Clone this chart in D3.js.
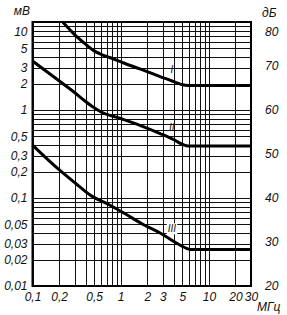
<!DOCTYPE html>
<head>
  <meta charset="utf-8">
  <script src="https://d3js.org/d3.v7.min.js"></script>
  <style>
    body { margin:0; background:#fff; }
    text { font-family: "Liberation Sans Narrow", "Liberation Sans", sans-serif; font-style: italic; fill:#111; }
    .grid line { stroke:#111; stroke-width:1; shape-rendering:crispEdges; }
    .frame { fill:none; stroke:#000; stroke-width:2; }
    .curve { fill:none; stroke:#000; stroke-width:3; stroke-linejoin:round; }
  </style>
</head>

<body>
  <script>
  // ---------- data ----------
    var freqI  = [0.22, 0.3, 0.4, 0.5, 0.6, 0.75, 1.1, 1.65, 2.8, 4.0, 5.2, 5.8, 30],
        mvI    = [10, 7.2, 5.6, 4.7, 4.3, 3.95, 3.4, 2.93, 2.4, 2.1, 1.92, 1.9, 1.9];
    var freqII = [0.1, 0.2, 0.3, 0.4, 0.5, 0.6, 1.0, 1.65, 2.8, 4.0, 5.2, 5.8, 30],
        mvII   = [3.6, 2.15, 1.58, 1.25, 1.06, 0.95, 0.8, 0.67, 0.54, 0.46, 0.4, 0.39, 0.39];
    var freqIII = [0.1, 0.2, 0.3, 0.47, 0.72, 1.1, 1.8, 2.8, 4.0, 5.5, 6.2, 30],
        mvIII   = [0.4, 0.21, 0.15, 0.105, 0.085, 0.067, 0.05, 0.04, 0.032, 0.027, 0.026, 0.026];

    var curveNames = ["I", "II", "III"];
    var xTicks = [0.1, 0.2, 0.5, 1, 2, 3, 5, 10, 20, 30];
    var yTicks = [10, 5, 3, 2, 1, 0.5, 0.3, 0.2, 0.1, 0.05, 0.03, 0.02, 0.01];
    var dbTicks = [80, 70, 60, 50, 40, 30, 20];

  // ---------- svg + scales ----------
    var svg = d3.select("body").append("svg")
      .attr("width", 287)
      .attr("height", 315);

    var x = d3.scaleLog().domain([0.1, 30]).range([32.5, 251]);
    var y = d3.scaleLog().domain([0.01, 10]).range([286, 22]);
    var yDb = d3.scaleLinear().domain([20, 80]).range([286, 22]);

    var fmt = d => String(d).replace(".", ",");

  // ---------- grid ----------
    var xGrid = [], yGrid = [];
    [0.1, 1].forEach(d => { for (var k = 1; k <= 9; k++) xGrid.push(k * d); });
    xGrid.push(10, 20, 30);
    [0.01, 0.1, 1].forEach(d => { for (var k = 1; k <= 9; k++) yGrid.push(k * d); });
    yGrid.push(10);

    var grid = svg.append("g").attr("class", "grid");
    grid.selectAll(".gx").data(xGrid).enter().append("line")
      .attr("x1", d => Math.round(x(d)) + 0.5).attr("x2", d => Math.round(x(d)) + 0.5)
      .attr("y1", y(10)).attr("y2", y(0.01));
    grid.selectAll(".gy").data(yGrid).enter().append("line")
      .attr("y1", d => Math.round(y(d)) + 0.5).attr("y2", d => Math.round(y(d)) + 0.5)
      .attr("x1", x(0.1)).attr("x2", x(30));

    svg.append("rect").attr("class", "frame")
      .attr("x", x(0.1)).attr("y", y(10))
      .attr("width", x(30) - x(0.1)).attr("height", y(0.01) - y(10));

  // ---------- axes (labels only) ----------
    var left = svg.append("g").attr("transform", "translate(" + x(0.1) + ",0)")
      .call(d3.axisLeft(y).tickValues(yTicks).tickFormat(fmt).tickSize(0).tickPadding(5));
    var right = svg.append("g").attr("transform", "translate(" + x(30) + ",0)")
      .call(d3.axisRight(yDb).tickValues(dbTicks).tickSize(0).tickPadding(14));
    var bottom = svg.append("g").attr("transform", "translate(0," + y(0.01) + ")")
      .call(d3.axisBottom(x).tickValues(xTicks).tickFormat(fmt).tickSize(0).tickPadding(6));
    [left, right, bottom].forEach(g => {
      g.select(".domain").remove();
      g.selectAll("text").attr("font-size", 12).attr("fill", "#111")
        .style("font-family", null);
    });
    // top labels sit a little below the frame in the original
    left.selectAll("text").filter(d => d === 10).attr("dy", "1.1em");
    right.selectAll("text").filter(d => d === 80).attr("dy", "1.1em");

    svg.append("text").attr("x", 30).attr("y", 15).attr("text-anchor", "end")
      .attr("font-size", 12).text("мВ");
    svg.append("text").attr("x", 262).attr("y", 17)
      .attr("font-size", 12).text("дБ");
    svg.append("text").attr("x", 257).attr("y", 311)
      .attr("font-size", 12).text("МГц");

  // ---------- curves ----------
    var line = d3.line()
      .x(d => x(d[0])).y(d => y(d[1]))
      .curve(d3.curveMonotoneX);

    var series = [d3.zip(freqI, mvI), d3.zip(freqII, mvII), d3.zip(freqIII, mvIII)];
    svg.selectAll(".curve").data(series).enter().append("path")
      .attr("class", "curve")
      .attr("d", line);

    // roman numerals just above each curve around 3.8 MHz
    var labelAt = 3.8;
    curveNames.forEach((name, i) => {
      var s = series[i];
      var interp = d3.scaleLog().domain(s.map(p => p[0])).range(s.map(p => Math.log(p[1])));
      var yv = Math.exp(interp(labelAt));
      var t = svg.append("text")
        .attr("x", x(labelAt)).attr("y", y(yv) - 8)
        .attr("text-anchor", "middle").attr("font-size", 10)
        .text(name);
      if (name === "III") {
        var bb = t.node().getBBox();
        svg.append("rect")
          .attr("x", bb.x - 1).attr("y", bb.y).attr("width", bb.width + 2).attr("height", bb.height)
          .attr("fill", "#fff");
        t.raise();
      }
    });
  </script>
</body>
